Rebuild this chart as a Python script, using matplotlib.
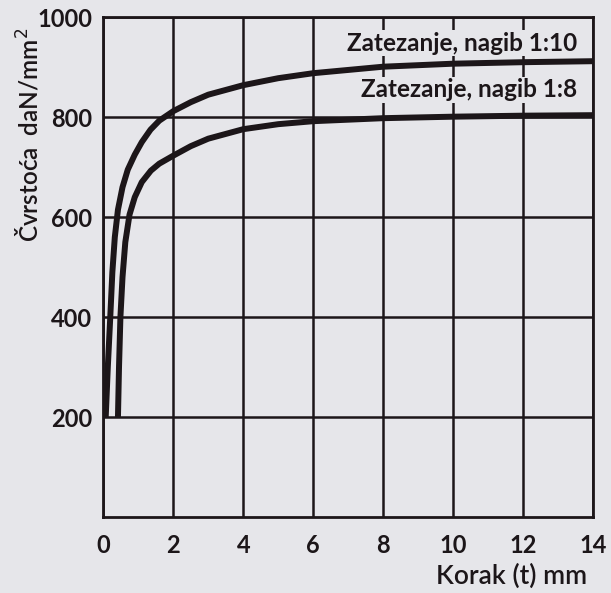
import matplotlib.pyplot as plt

# values (Korak t in mm, Cvrstoca in daN/mm2)
x_nagib_10 = [0.07, 0.13, 0.20, 0.26, 0.33, 0.42, 0.55, 0.70, 0.90, 1.1, 1.35, 1.6, 2.0, 2.5, 3.0, 4.0, 5.0, 6.0, 8.0, 10.0, 12.0, 14.0]
y_nagib_10 = [200, 300, 400, 490, 560, 615, 660, 695, 725, 750, 775, 793, 812, 830, 845, 864, 878, 888, 901, 907, 910, 912]

x_nagib_8 = [0.42, 0.45, 0.49, 0.55, 0.63, 0.75, 0.90, 1.1, 1.36, 1.6, 2.0, 2.5, 3.0, 4.0, 5.0, 6.0, 8.0, 10.0, 12.0, 14.0]
y_nagib_8 = [200, 300, 400, 480, 550, 605, 640, 670, 693, 707, 723, 742, 757, 776, 786, 792, 798, 801, 803, 804]

x_ticks = [0, 2, 4, 6, 8, 10, 12, 14]
y_ticks = [200, 400, 600, 800, 1000]

labels = ['Zatezanje, nagib 1:10', 'Zatezanje, nagib 1:8']

ink = '#1c1619'
paper = '#e6e6ea'

plt.rcParams['font.family'] = ['Lato', 'DejaVu Sans']

fig = plt.figure(figsize=(6.11, 5.93), dpi=100, facecolor=paper)
ax = fig.add_axes([0.169, 0.128, 0.802, 0.843])
ax.set_facecolor(paper)

ax.plot(x_nagib_10, y_nagib_10, color=ink, lw=4.3, solid_capstyle='butt')
ax.plot(x_nagib_8, y_nagib_8, color=ink, lw=4.3, solid_capstyle='butt')

ax.set_xlim(0, 14)
ax.set_ylim(0, 1000)
ax.set_xticks(x_ticks)
ax.set_yticks(y_ticks)
ax.set_xticklabels([str(v) for v in x_ticks])
ax.set_yticklabels([str(v) for v in y_ticks])
ax.grid(True, color=ink, lw=1.8)
ax.set_axisbelow(True)
for s in ax.spines.values():
    s.set_color(ink)
    s.set_linewidth(2.0)
ax.tick_params(length=0, labelsize=17, labelcolor=ink)
ax.tick_params(axis='x', pad=12)
ax.tick_params(axis='y', pad=8)
for lab in ax.get_xticklabels() + ax.get_yticklabels():
    lab.set_fontweight('bold')

ax.text(13.55, 948, labels[0], ha='right', va='center', fontsize=17.5,
        fontweight='bold', color=ink,
        bbox=dict(facecolor=paper, edgecolor='none', pad=1))
ax.text(13.55, 855, labels[1], ha='right', va='center', fontsize=17.5,
        fontweight='bold', color=ink,
        bbox=dict(facecolor=paper, edgecolor='none', pad=1))

fig.text(0.961, 0.028, 'Korak (t) mm', ha='right', va='center', fontsize=19,
         fontweight='semibold', color=ink)
fig.text(0.046, 0.772, 'Čvrstoća  daN/mm$^2$', ha='center', va='center',
         rotation=90, fontsize=17.5, fontweight='semibold', color=ink)

fig.savefig('out.png', dpi=100, facecolor=paper)
